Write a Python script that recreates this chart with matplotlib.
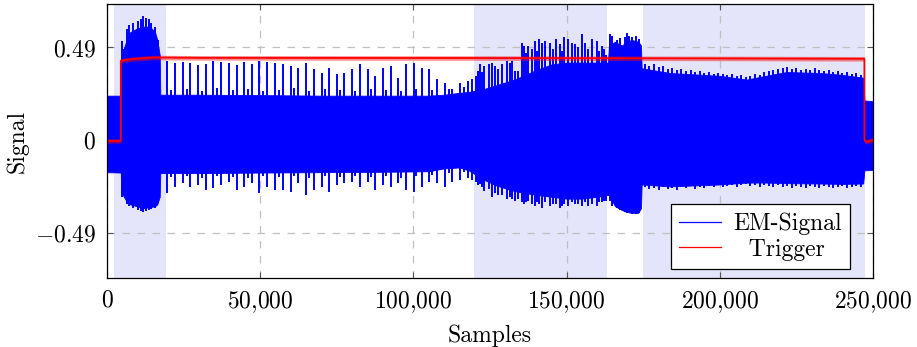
import numpy as np
import matplotlib
matplotlib.use('Agg')
import matplotlib.pyplot as plt
from matplotlib.lines import Line2D

plt.rcParams['mathtext.fontset'] = 'cm'
plt.rcParams['font.family'] = ['cmr10', 'DejaVu Serif']
plt.rcParams['axes.unicode_minus'] = False

# ---------------- data (x in samples) ----------------
region_start = [2300, 119800, 175000]
region_end = [19300, 163200, 247400]

# envelope of the EM signal (k samples, upper, lower)
env_x = [0, 4.5, 4.6, 4.8, 6.2, 7.5, 9.7, 11.9, 14.0, 15.7, 16.4, 17.2, 17.4,
         30, 50, 70, 90, 105, 110, 115, 118, 120, 123, 127, 133, 140, 145,
         150, 155, 160, 163.5, 163.8, 165.8, 168.0, 169.6, 171.2, 173.4,
         174.3, 174.5, 183.7, 200, 208.8, 215, 221.8, 232.7, 240, 246.8,
         247.2, 250]
env_hi = [0.235, 0.235, 0.43, 0.45, 0.52, 0.57, 0.59, 0.60, 0.60, 0.57, 0.53,
          0.45, 0.24, 0.24, 0.238, 0.235, 0.235, 0.235, 0.24, 0.25, 0.255,
          0.26, 0.27, 0.29, 0.32, 0.37, 0.40, 0.41, 0.41, 0.41, 0.41, 0.50,
          0.52, 0.50, 0.52, 0.53, 0.52, 0.50, 0.38, 0.355, 0.34, 0.32, 0.34,
          0.36, 0.355, 0.345, 0.33, 0.21, 0.205]
env_lo = [-0.170, -0.172, -0.26, -0.28, -0.32, -0.34, -0.35, -0.36, -0.355,
          -0.35, -0.34, -0.30, -0.175, -0.175, -0.172, -0.170, -0.168, -0.165,
          -0.15, -0.145, -0.16, -0.18, -0.21, -0.24, -0.27, -0.29, -0.30,
          -0.31, -0.31, -0.30, -0.29, -0.29, -0.35, -0.37, -0.38, -0.385,
          -0.385, -0.36, -0.235, -0.245, -0.235, -0.225, -0.225, -0.228,
          -0.23, -0.232, -0.23, -0.16, -0.158]

# individual peaks of the EM signal (k samples, top, bottom)
spike_x = [5.0, 5.6, 6.5, 7.2, 8.5, 10.0, 11.0, 11.9, 12.8, 13.6, 14.5, 15.5, 16.8,
           19.7, 22.2, 24.7, 27.1, 29.8, 32.2, 34.7, 37.2, 39.8, 42.3, 44.8, 47.2,
           49.7, 52.3, 54.8, 57.3, 59.9, 62.4, 64.8, 67.5,
           70.1, 72.5, 75.0, 77.5, 80.1, 82.6, 85.1, 87.5, 90.2, 92.7, 95.1, 97.5,
           100.2, 102.7, 105.2, 107.6, 110.3, 112.7, 115.2, 117.7,
           21.0, 26.0, 31.0, 36.0, 41.0, 46.0, 51.0, 56.0, 61.0, 66.0, 71.0, 76.0,
           81.0, 86.0, 91.0, 96.0, 101.0, 106.0, 111.5, 116.4,
           117.9, 119.0, 121.0, 121.7, 123.1, 124.7, 125.5, 127.7, 130.4, 131.5,
           133.2, 134.2, 135.5, 136.2, 137.5, 139.7, 141.0, 142.1, 143.0, 144.6,
           146.4, 147.8, 149.3, 150.6, 151.7, 152.7, 154.9, 156.0, 158.2, 159.8,
           161.5, 162.3,
           120.3, 122.4, 126.5, 128.8, 132.3, 136.9, 138.6, 140.4, 145.5, 148.5,
           153.8, 157.1, 160.6, 162.8,
           164.2, 164.8, 166.5, 167.3, 169.0, 169.6, 170.4, 171.5, 172.5, 173.6,
           175.5, 177, 178.5, 180, 181.5, 183, 184.5, 186, 187.5, 189, 190.5, 192,
           193.5, 195, 196.5, 198, 199.5, 201, 202.5, 204, 205.5, 207, 208.5, 210,
           211.5, 213, 214.5, 216, 217.5, 219, 220.5, 222, 223.5, 225, 226.5, 228,
           229.5, 231, 232.5, 234, 235.5, 237, 238.5, 240, 241.5, 243, 244.5, 246]
spike_top = [0.525, 0.48, 0.59, 0.61, 0.62, 0.63, 0.64, 0.655, 0.645, 0.64, 0.62, 0.60, 0.53,
             0.419, 0.410, 0.413, 0.406, 0.396, 0.401, 0.419, 0.413, 0.410, 0.396, 0.413, 0.401,
             0.419, 0.413, 0.406, 0.401, 0.392, 0.383, 0.410, 0.374,
             0.357, 0.383, 0.348, 0.357, 0.374, 0.401, 0.374, 0.339, 0.383, 0.392, 0.330, 0.401,
             0.410, 0.383, 0.374, 0.321, 0.304, 0.268, 0.304, 0.312,
             0.265, 0.27, 0.26, 0.275, 0.265, 0.27, 0.26, 0.265, 0.275, 0.26, 0.27, 0.265,
             0.26, 0.27, 0.265, 0.26, 0.27, 0.265, 0.27, 0.28,
             0.303, 0.321, 0.365, 0.401, 0.392, 0.401, 0.41, 0.374, 0.419, 0.41,
             0.365, 0.365, 0.516, 0.498, 0.498, 0.525, 0.534, 0.516, 0.525, 0.516,
             0.534, 0.507, 0.543, 0.534, 0.516, 0.507, 0.561, 0.516, 0.534, 0.525,
             0.498, 0.481,
             0.34, 0.36, 0.39, 0.40, 0.42, 0.46, 0.48, 0.47, 0.48, 0.47,
             0.49, 0.48, 0.47, 0.45,
             0.56, 0.55, 0.53, 0.54, 0.545, 0.565, 0.55, 0.545, 0.55, 0.535,
             0.40, 0.39, 0.40, 0.385, 0.39, 0.375, 0.38, 0.37, 0.375, 0.365, 0.37, 0.36,
             0.365, 0.355, 0.36, 0.35, 0.355, 0.35, 0.345, 0.35, 0.34, 0.345, 0.335, 0.34,
             0.35, 0.345, 0.36, 0.365, 0.37, 0.375, 0.38, 0.385, 0.375, 0.38, 0.37, 0.375,
             0.37, 0.38, 0.37, 0.365, 0.37, 0.36, 0.365, 0.355, 0.36, 0.35, 0.355, 0.345]
spike_bot = [-0.30, -0.29, -0.34, -0.35, -0.36, -0.37, -0.375, -0.38, -0.375, -0.37, -0.365, -0.36, -0.33,
             -0.282, -0.247, -0.229, -0.247, -0.238, -0.265, -0.256, -0.238, -0.220, -0.265, -0.247, -0.229,
             -0.282, -0.247, -0.265, -0.265, -0.274, -0.229, -0.291, -0.265,
             -0.247, -0.274, -0.238, -0.229, -0.220, -0.247, -0.220, -0.265, -0.238, -0.247, -0.229, -0.265,
             -0.274, -0.247, -0.220, -0.229, -0.247, -0.220, -0.211, -0.202,
             -0.195, -0.19, -0.2, -0.19, -0.195, -0.2, -0.19, -0.195, -0.19, -0.2, -0.19, -0.195,
             -0.19, -0.195, -0.19, -0.2, -0.19, -0.185, -0.175, -0.17,
             -0.20, -0.21, -0.24, -0.23, -0.27, -0.26, -0.30, -0.29, -0.31, -0.30,
             -0.32, -0.31, -0.33, -0.34, -0.32, -0.35, -0.34, -0.36, -0.33, -0.35,
             -0.34, -0.36, -0.34, -0.35, -0.33, -0.34, -0.35, -0.33, -0.34, -0.35,
             -0.33, -0.32,
             -0.22, -0.25, -0.28, -0.29, -0.31, -0.33, -0.34, -0.33, -0.34, -0.35,
             -0.34, -0.35, -0.33, -0.32,
             -0.32, -0.35, -0.36, -0.37, -0.38, -0.385, -0.38, -0.39, -0.39, -0.385,
             -0.25, -0.26, -0.255, -0.265, -0.25, -0.26, -0.255, -0.265, -0.25, -0.255, -0.245, -0.26,
             -0.25, -0.255, -0.245, -0.25, -0.24, -0.25, -0.245, -0.24, -0.25, -0.24, -0.235, -0.245,
             -0.24, -0.25, -0.24, -0.245, -0.25, -0.24, -0.25, -0.245, -0.255, -0.245, -0.25, -0.255,
             -0.245, -0.25, -0.255, -0.245, -0.25, -0.255, -0.25, -0.245, -0.255, -0.25, -0.245, -0.25]

# trigger signal (k samples, level)
trig_x = [0, 4.5, 4.5, 8, 15, 30, 120, 200, 247.2, 247.2, 247.6, 250]
trig_y = [-0.005, -0.005, 0.42, 0.428, 0.437, 0.435, 0.434, 0.432, 0.430, 0.005, -0.01, 0.0]
trig_noise = 0.012

x_ticks = [0, 50000, 100000, 150000, 200000, 250000]
x_tick_labels = ['$0$', '$50{,}000$', '$100{,}000$', '$150{,}000$', '$200{,}000$', '$250{,}000$']
y_ticks = [-0.49, 0, 0.49]
y_tick_labels = ['$-0.49$', '$0$', '$0.49$']

# ---------------- plot ----------------
fig = plt.figure(figsize=(9.17, 3.47), dpi=100)
ax = fig.add_axes([0.1167, 0.1988, 0.8353, 0.7897])

for s, e in zip(region_start, region_end):
    ax.axvspan(s, e, color='#e4e4fb', lw=0, zorder=0)

ex = np.array(env_x) * 1000
ax.fill_between(ex, env_lo, env_hi, color='#0000ff', lw=0.6, edgecolor='#0000ff', zorder=2)
ax.vlines(np.array(spike_x) * 1000, spike_bot, spike_top, color='#0000ff', lw=1.4, zorder=2)

tx = np.array(trig_x) * 1000
ty = np.array(trig_y)
ax.fill_between(tx, ty - trig_noise, ty + trig_noise, color='#ff0000', alpha=0.45, lw=0, zorder=3)
ax.plot(tx, ty, color='#ff0000', lw=1.3, zorder=4)

ax.set_xlim(0, 250000)
ax.set_ylim(-0.73, 0.72)
ax.set_xticks(x_ticks)
ax.set_xticklabels(x_tick_labels)
ax.set_yticks(y_ticks)
ax.set_yticklabels(y_tick_labels)
ax.tick_params(direction='in', length=4, width=0.8, top=True, right=True,
               labelsize=17, color='#555555', pad=8)
ax.grid(True, linestyle=(0, (6, 6)), color='#c0c0c0', lw=0.9, zorder=1)
ax.set_axisbelow(True)
for sp in ax.spines.values():
    sp.set_linewidth(0.9)
    sp.set_zorder(5)

ax.set_xlabel('Samples', fontsize=17, labelpad=7)
ax.set_ylabel('Signal', fontsize=17, labelpad=4)

handles = [Line2D([], [], color='#0000ff', lw=0.9), Line2D([], [], color='#ff0000', lw=0.9)]
leg = ax.legend(handles, ['EM-Signal', '  Trigger'], loc='lower right',
                bbox_to_anchor=(0.97, 0.033), borderaxespad=0, fontsize=17,
                fancybox=False, framealpha=1, edgecolor='black',
                handlelength=1.8, labelspacing=0.15, borderpad=0.35, handletextpad=0.5)
leg.get_frame().set_linewidth(0.9)
leg.set_zorder(6)

fig.savefig('out.png', dpi=100)
